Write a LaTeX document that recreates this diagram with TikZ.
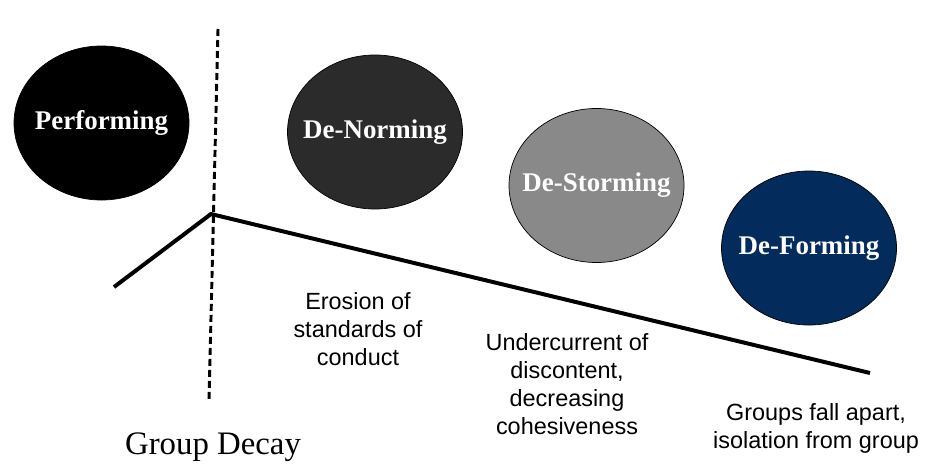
\documentclass[tikz,border=0pt]{standalone}
\usepackage{fontspec}
\setmainfont{Liberation Serif}
\setsansfont{Liberation Sans}
\usetikzlibrary{shapes.geometric}
\definecolor{normgray}{HTML}{2B2B2B}
\definecolor{stormgray}{HTML}{898989}
\definecolor{formblue}{HTML}{032B5B}
\newcommand{\stagetext}[1]{\makebox[0pt]{#1}}
\begin{document}
\begin{tikzpicture}[x=0.03cm, y=-0.03cm,
    stage node/.style={ellipse, draw=black, line width=0.6pt, inner sep=0pt,
      minimum width=5.25cm, minimum height=4.62cm, text=white,
      font=\fontsize{23}{27}\selectfont\bfseries},
    note node/.style={align=center, font=\sffamily\fontsize{20}{24}\selectfont}]
        \useasboundingbox (0,0) rectangle (931,470);

          \node[stage node, fill=black] (perf) at (101.5,123) {\stagetext{Performing}};
          \node[stage node, fill=normgray] (norm) at (375,132) {\stagetext{De-Norming}};
          \node[stage node, fill=stormgray] (storm) at (596.5,185.5) {\stagetext{De-Storming}};
          \node[stage node, fill=formblue] (form) at (809,248) {\stagetext{De-Forming}};

          \node[note node] (erosion) at (358,329) {Erosion of\\standards of\\conduct};
          \node[note node] (under) at (567,384) {Undercurrent of\\discontent,\\decreasing\\cohesiveness};
          \node[note node] (apart) at (816,428) {Groups fall apart,\\isolation from group};
          \node[font=\fontsize{28}{34}\selectfont] (decay) at (213,447) {Group Decay};

          \coordinate (top) at (218,29);
          \coordinate (bottom) at (209,400);
          \coordinate (start) at (114,287);
          \coordinate (peak) at (211,214);
          \coordinate (end) at (870,373);

          % decay line and boundary
          \draw[line width=3.4pt] (start) -- (peak) -- (end);
          \draw[line width=2.5pt, dash pattern=on 0.21cm off 0.12cm] (top) -- (bottom);

\end{tikzpicture}
\end{document}
